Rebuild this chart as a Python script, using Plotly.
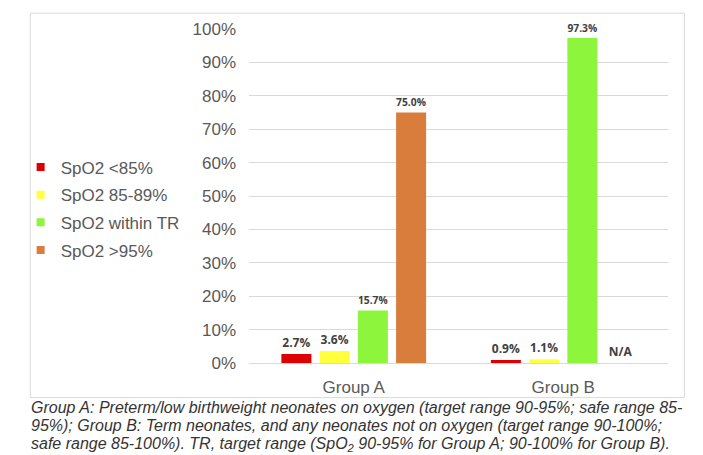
import plotly.graph_objects as go

groups = ["Group A", "Group B"]
series_names = ["SpO2 <85%", "SpO2 85-89%", "SpO2 within TR", "SpO2 >95%"]
colors = ["#DE0000", "#FFFF3C", "#8CF53C", "#D87D3C"]
values = [
    [2.7, 0.9],
    [3.6, 1.1],
    [15.7, 97.3],
    [75.0, 0.0],
]
labels = [
    ["2.7%", "0.9%"],
    ["3.6%", "1.1%"],
    ["15.7%", "97.3%"],
    ["75.0%", "N/A"],
]
y_ticks = [0, 10, 20, 30, 40, 50, 60, 70, 80, 90, 100]
y_tick_text = ["0%", "10%", "20%", "30%", "40%", "50%", "60%", "70%", "80%", "90%", "100%"]
caption_lines = [
    "Group A: Preterm/low birthweight neonates on oxygen (target range 90-95%; safe range 85-",
    "95%); Group B: Term neonates, and any neonates not on oxygen (target range 90-100%;",
    "safe range 85-100%). TR, target range (SpO<sub>2</sub> 90-95% for Group A; 90-100% for Group B).",
]

W, H = 703, 455
L, R, T, B = 227, 660, 17, 355  # plot area pixels
pw, ph = R - L, B - T


def px(x):
    return (x - L) / pw


def py(y):
    return (B - y) / ph


fig = go.Figure()
for name, col, vals, labs in zip(series_names, colors, values, labels):
    fig.add_trace(go.Bar(
        x=groups, y=vals, name=name, marker=dict(color=col, line=dict(width=0)),
        text=labs, textposition="outside", cliponaxis=False,
        textfont=dict(family="Open Sans", size=12, color="#404040", weight="bold"),
        showlegend=False, hoverinfo="skip",
    ))
for i, (name, col) in enumerate(zip(series_names, colors)):
    fig.add_trace(go.Scatter(
        x=[None], y=[None], mode="markers", name=name, legendgroup=f"g{i}",
        marker=dict(symbol="square", size=8, color=col),
    ))

fig.update_layout(
    width=W, height=H,
    margin=dict(l=L, r=W - R, t=T, b=H - B, pad=0),
    paper_bgcolor="white", plot_bgcolor="white",
    barmode="group", bargap=0.27, bargroupgap=0.215,
    font=dict(family="Liberation Sans, Arial, sans-serif", color="#595959", size=17),
    legend=dict(
        x=px(-9), xanchor="left", y=py(139), yanchor="top",
        font=dict(size=17, color="#595959"), itemwidth=30,
        tracegroupgap=2.5, bgcolor="rgba(0,0,0,0)",
    ),
    xaxis=dict(
        type="category", range=[-0.5, 1.5], showgrid=False,
        showline=True, linecolor="#D9D9D9", linewidth=1,
        ticks="", tickfont=dict(size=17, color="#595959"), ticklabelstandoff=9,
    ),
    yaxis=dict(
        range=[0, 100], tickvals=y_ticks, ticktext=y_tick_text,
        showgrid=True, gridcolor="#D9D9D9", gridwidth=1, zeroline=False,
        ticks="", tickfont=dict(size=17, color="#595959"), ticklabelstandoff=12,
    ),
)

# outer frame
fig.add_shape(type="rect", xref="paper", yref="paper",
              x0=px(1), x1=px(677), y0=py(390), y1=py(1),
              line=dict(color="#D9D9D9", width=1), layer="below")

for i, line in enumerate(caption_lines):
    fig.add_annotation(
        text=line, xref="paper", yref="paper",
        x=px(0), xanchor="left", y=py(400 + 18.5 * i), yanchor="middle",
        showarrow=False, align="left",
        font=dict(family="Liberation Sans, Arial, sans-serif", size=16, color="#333333",
                  style="italic"),
    )

fig.write_html("out.html")
